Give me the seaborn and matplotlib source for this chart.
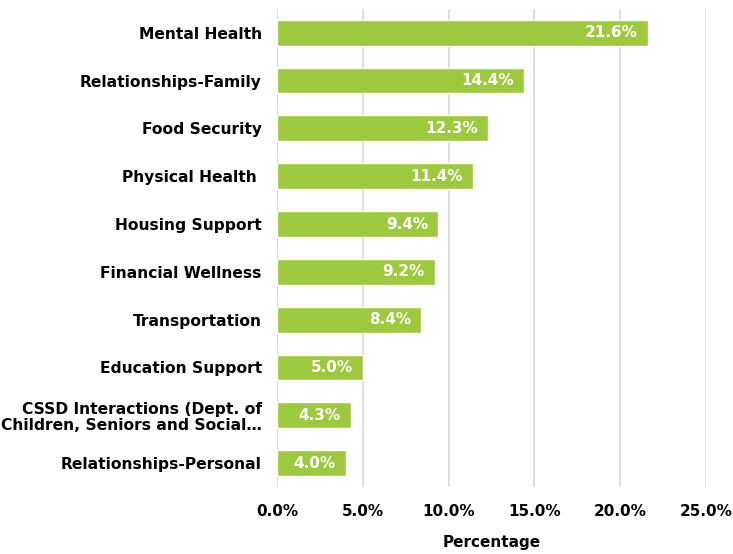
import matplotlib
matplotlib.use("Agg")
import matplotlib.pyplot as plt
import seaborn as sns
import pandas as pd

categories = [
    "Mental Health",
    "Relationships-Family",
    "Food Security",
    "Physical Health ",
    "Housing Support",
    "Financial Wellness",
    "Transportation",
    "Education Support",
    "CSSD Interactions (Dept. of\nChildren, Seniors and Social\u2026",
    "Relationships-Personal",
]
values = [21.6, 14.4, 12.3, 11.4, 9.4, 9.2, 8.4, 5.0, 4.3, 4.0]
xticks = [0, 5, 10, 15, 20, 25]

df = pd.DataFrame({"category": categories, "value": values})

sns.set_style("white")
plt.rcParams["font.family"] = ["DejaVu Sans"]
plt.rcParams["font.weight"] = "bold"
plt.rcParams["text.color"] = "black"

fig = plt.figure(figsize=(7.33, 5.54), dpi=100)
ax = fig.add_axes([0.378, 0.121, 0.585, 0.863])

sns.barplot(data=df, x="value", y="category", color="#9dc93e",
            width=0.54, saturation=1, ax=ax, zorder=3)

for p, v in zip(ax.patches, values):
    ax.text(p.get_x() + p.get_width() - 0.6, p.get_y() + p.get_height() / 2,
            f"{v:.1f}%", color="white", fontsize=11, fontweight="bold",
            ha="right", va="center", zorder=4)

ax.set_xlim(0, 25)
ax.set_xticks(xticks)
ax.set_xticklabels([f"{t:.1f}%" for t in xticks], fontsize=11,
                   fontweight="bold", color="black")
ax.set_yticklabels(ax.get_yticklabels(), fontsize=11.2, fontweight="bold",
                   color="black", linespacing=1.1)
ax.set_ylabel("")
ax.set_xlabel("Percentage", fontsize=11, fontweight="bold", color="black",
              labelpad=12)
ax.xaxis.grid(True, color="#d9d9d9", linewidth=1.2, zorder=0)
ax.axvline(0, color="#d9d9d9", linewidth=1.2, zorder=1)
for s in ax.spines.values():
    s.set_visible(False)
ax.tick_params(axis="y", length=0, pad=11)
ax.tick_params(axis="x", length=0, pad=12)

fig.savefig("out.png", dpi=100)
